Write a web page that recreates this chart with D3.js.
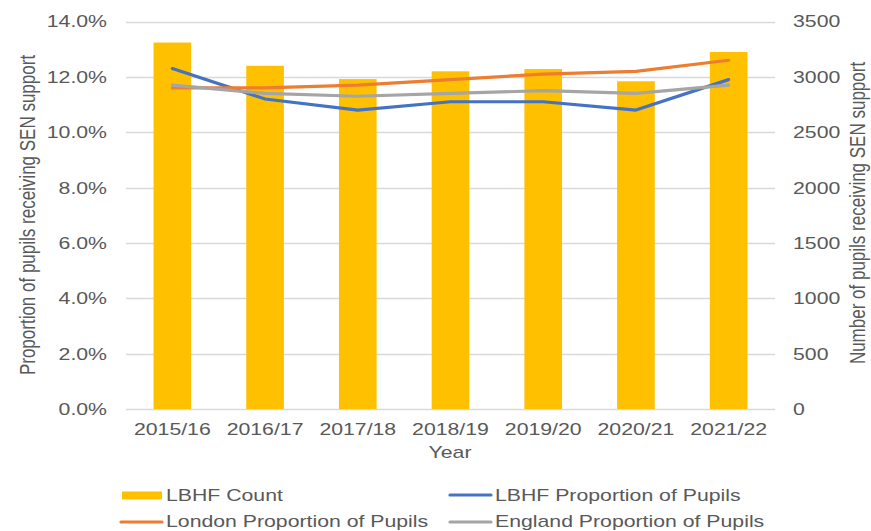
<!DOCTYPE html>
<html><head><meta charset="utf-8">
<script src="https://cdn.jsdelivr.net/npm/d3@7"></script>
<style>
body{margin:0;background:#fff}
svg{display:block}
text{font-family:"Liberation Sans",Arial,sans-serif;fill:#595959;font-size:17px}
</style>
</head><body>
<svg id="c" width="871" height="531"></svg>
<script>
const years=["2015/16","2016/17","2017/18","2018/19","2019/20","2020/21","2021/22"];
const lbhfCount=[3310,3100,2980,3050,3070,2960,3225];
const lbhfProp=[12.3,11.2,10.8,11.1,11.1,10.8,11.9];
const londonProp=[11.6,11.6,11.7,11.9,12.1,12.2,12.6];
const englandProp=[11.7,11.4,11.3,11.4,11.5,11.4,11.7];
const leftTicks=[0,2,4,6,8,10,12,14];
const rightTicks=[0,500,1000,1500,2000,2500,3000,3500];
const leftTitle="Proportion of pupils receiving SEN support";
const rightTitle="Number of pupils receiving SEN support";
const xTitle="Year";
const legendItems=[
  {name:"LBHF Count",type:"bar",color:"#FFC000"},
  {name:"LBHF Proportion of Pupils",type:"line",color:"#4472C4"},
  {name:"London Proportion of Pupils",type:"line",color:"#ED7D31"},
  {name:"England Proportion of Pupils",type:"line",color:"#A5A5A5"}
];

const svg=d3.select("#c");
const L=126,R=775,T=21.5,B=409;
const SX=1.25;

const x=d3.scaleBand().domain(years).range([L,R]).paddingInner(0.594).paddingOuter(0.297);
const yl=d3.scaleLinear().domain([0,14]).range([B,T]);
const yr=d3.scaleLinear().domain([0,3500]).range([B,T]);

function stretch(sel){
  sel.each(function(){
    const t=d3.select(this);
    const tx=+t.attr("x")||0, ty=+t.attr("y")||0;
    t.attr("x",0).attr("y",0).attr("transform",`translate(${tx},${ty}) scale(${SX},1)`);
  });
}

// gridlines
svg.append("g").selectAll("line").data(leftTicks).join("line")
  .attr("x1",L).attr("x2",R).attr("y1",d=>Math.round(yl(d))+0.5).attr("y2",d=>Math.round(yl(d))+0.5)
  .attr("stroke","#D9D9D9").attr("stroke-width",1.3);

// bars
svg.append("g").selectAll("rect").data(lbhfCount).join("rect")
  .attr("x",(d,i)=>x(years[i])).attr("width",x.bandwidth())
  .attr("y",d=>yr(d)).attr("height",d=>B-yr(d)).attr("fill","#FFC000");

// lines
const cx=i=>x(years[i])+x.bandwidth()/2;
const line=d3.line().x((d,i)=>cx(i)).y(d=>yl(d));
[[lbhfProp,"#4472C4"],[londonProp,"#ED7D31"],[englandProp,"#A5A5A5"]].forEach(([s,c])=>{
  svg.append("path").datum(s).attr("d",line).attr("fill","none")
    .attr("stroke",c).attr("stroke-width",3.2).attr("stroke-linecap","round").attr("stroke-linejoin","round");
});

// axes
const ga=svg.append("g").attr("transform",`translate(${L},0)`)
  .call(d3.axisLeft(yl).tickValues(leftTicks).tickFormat(d=>d3.format(".1f")(d)+"%").tickSize(0).tickPadding(19));
ga.select(".domain").remove();
stretch(ga.selectAll("text"));

const gr=svg.append("g").attr("transform",`translate(${R},0)`)
  .call(d3.axisRight(yr).tickValues(rightTicks).tickFormat(d3.format("d")).tickSize(0).tickPadding(18));
gr.select(".domain").remove();
stretch(gr.selectAll("text"));

const gb=svg.append("g").attr("transform",`translate(0,${B})`)
  .call(d3.axisBottom(x).tickSize(0).tickPadding(14));
gb.select(".domain").remove();
stretch(gb.selectAll("text"));

svg.selectAll(".tick text").style("font-size","17px").style("fill","#595959").style("font-family",'"Liberation Sans",Arial,sans-serif');
svg.selectAll("g").attr("font-size",null).attr("font-family",null);

// titles
svg.append("text").attr("text-anchor","middle")
  .attr("transform",`translate(450,458) scale(${SX},1)`).text(xTitle);
svg.append("text").attr("text-anchor","middle")
  .attr("transform",`translate(35,215) rotate(-90) scale(1,${SX})`).text(leftTitle);
svg.append("text").attr("text-anchor","middle")
  .attr("transform",`translate(865,213) rotate(-90) scale(1,${SX})`).text(rightTitle);

// legend
const lpos=[[122,495],[449,495],[120,522],[449,522]];
const lg=svg.append("g");
legendItems.forEach((it,i)=>{
  const [lx,ly]=lpos[i];
  if(it.type==="bar"){
    lg.append("rect").attr("x",lx).attr("y",ly-3.5).attr("width",40).attr("height",8).attr("fill",it.color);
  }else{
    lg.append("line").attr("x1",lx+1).attr("x2",lx+42).attr("y1",ly).attr("y2",ly)
      .attr("stroke",it.color).attr("stroke-width",3.2).attr("stroke-linecap","round");
  }
  const ty=i<2?501:527;
  lg.append("text").attr("transform",`translate(${i%2===0?166:495},${ty}) scale(${SX},1)`).text(it.name);
});
</script>
</body></html>
